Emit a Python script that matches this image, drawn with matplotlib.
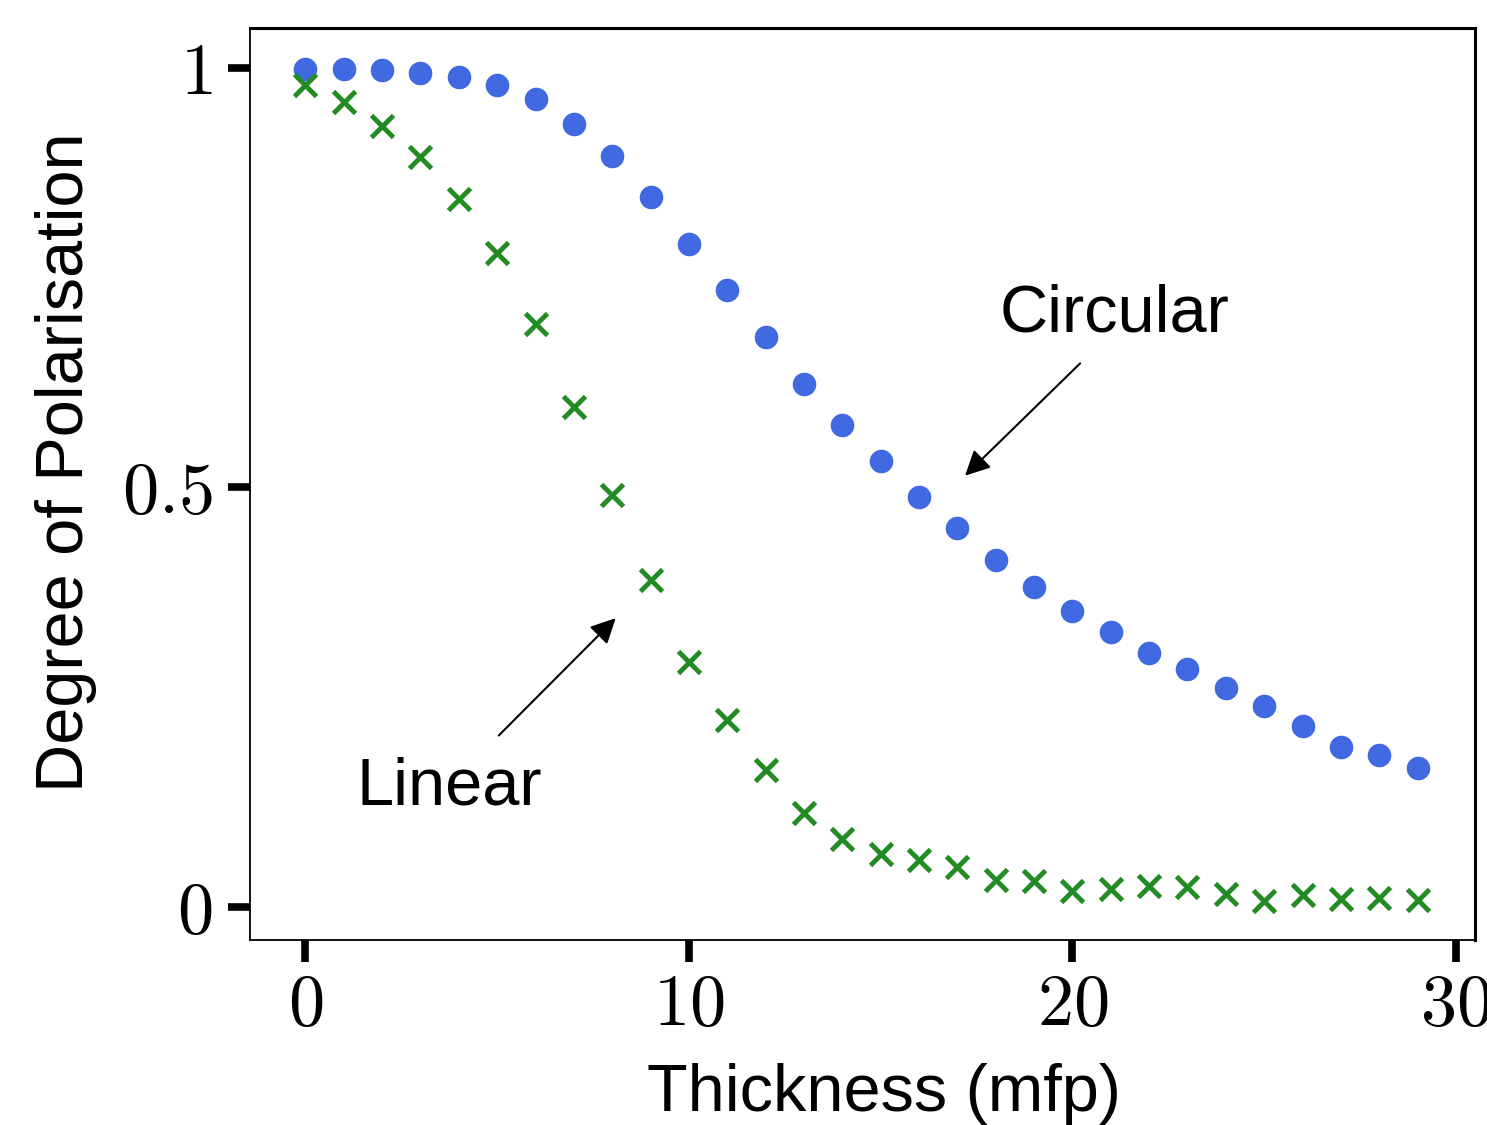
import matplotlib
matplotlib.use('Agg')
import matplotlib.pyplot as plt

plt.rcParams['mathtext.fontset'] = 'cm'
plt.rcParams['font.family'] = ['Liberation Sans', 'DejaVu Sans']

thickness = list(range(30))
circular = [0.999, 0.999, 0.998, 0.995, 0.990, 0.980, 0.964, 0.934, 0.895, 0.846,
            0.790, 0.735, 0.680, 0.624, 0.574, 0.531, 0.489, 0.452, 0.414, 0.381,
            0.353, 0.327, 0.303, 0.283, 0.261, 0.239, 0.215, 0.190, 0.181, 0.165]
linear = [0.980, 0.960, 0.931, 0.894, 0.844, 0.780, 0.695, 0.596, 0.491, 0.389,
          0.292, 0.223, 0.163, 0.111, 0.081, 0.063, 0.056, 0.047, 0.032, 0.030,
          0.018, 0.021, 0.024, 0.023, 0.015, 0.007, 0.014, 0.009, 0.010, 0.008]

xticks = [0, 10, 20, 30]
xticklabels = ['$0$', '$10$', '$20$', '$30$']
yticks = [0, 0.5, 1]
yticklabels = ['$0$', '$0.5$', '$1$']

fig = plt.figure(figsize=(14.87, 11.25), dpi=100)
ax = fig.add_axes([0.168, 0.1644, 0.824, 0.8106])

ax.plot(thickness, circular, linestyle='none', marker='o', markersize=17,
        color='#4169E1', markeredgewidth=0)
ax.plot(thickness, linear, linestyle='none', marker='x', markersize=16.5,
        color='#228B22', markeredgewidth=3.5)

ax.set_xticks(xticks)
ax.set_xticklabels(xticklabels)
ax.set_yticks(yticks)
ax.set_yticklabels(yticklabels)
ax.tick_params(axis='both', which='major', direction='out', length=16, width=5.5,
               labelsize=52)
ax.tick_params(axis='x', pad=8)
ax.tick_params(axis='y', pad=11)

ax.set_xlim(-1.45, 30.5)
ax.set_ylim(-0.04, 1.048)

for side in ['left', 'bottom']:
    ax.spines[side].set_linewidth(1.3)
for side in ['top', 'right']:
    ax.spines[side].set_linewidth(2.2)

ax.set_xlabel('Thickness (mfp)', fontsize=48, labelpad=16)
ax.set_ylabel('Degree of Polarisation', fontsize=48, labelpad=18)
ax.xaxis.label.set_x(0.5176)
ax.yaxis.label.set_y(0.524)

ax.text(21.1, 0.706, 'Circular', fontsize=48, ha='center', va='center')
ax.annotate('', xy=(17.2, 0.514), xytext=(20.2, 0.648),
            arrowprops=dict(arrowstyle='-|>', color='black', lw=1.5,
                            mutation_scale=38, shrinkA=0, shrinkB=0))

ax.text(3.76, 0.142, 'Linear', fontsize=48, ha='center', va='center')
ax.annotate('', xy=(8.09, 0.344), xytext=(5.04, 0.204),
            arrowprops=dict(arrowstyle='-|>', color='black', lw=1.5,
                            mutation_scale=38, shrinkA=0, shrinkB=0))

fig.savefig('out.png', dpi=100)
